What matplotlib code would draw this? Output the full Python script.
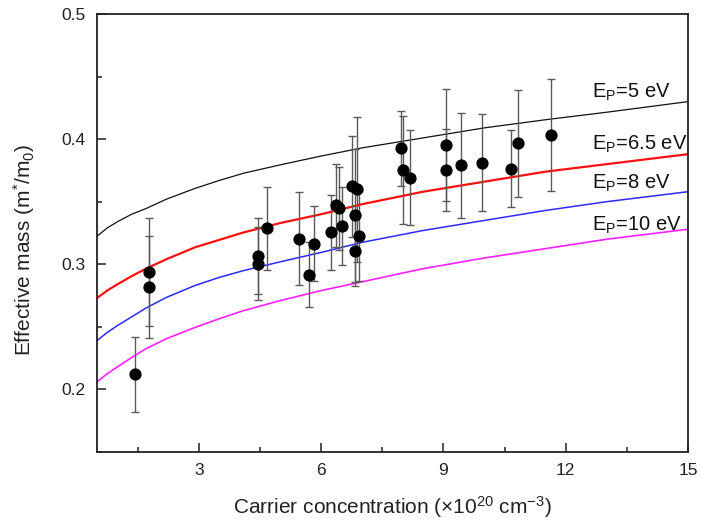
import matplotlib
matplotlib.use("Agg")
import matplotlib.pyplot as plt
from matplotlib.ticker import MultipleLocator

plt.rcParams['font.family'] = ['Liberation Sans', 'DejaVu Sans']
plt.rcParams['mathtext.fontset'] = 'custom'
plt.rcParams['mathtext.rm'] = 'Liberation Sans'
plt.rcParams['mathtext.it'] = 'Liberation Sans:italic'
plt.rcParams['mathtext.bf'] = 'Liberation Sans:bold'

# ---- model curves ----
curve_x = [0.5, 0.75, 1.0, 1.35, 1.7, 2.2, 2.9, 3.5, 4.1, 5.0, 6.0, 7.0, 8.5, 10.0, 11.5, 13.0, 15.0]
ep5 = [0.3224, 0.329, 0.334, 0.340, 0.3445, 0.352, 0.3606, 0.367, 0.3728, 0.3795, 0.3865, 0.393,
       0.401, 0.409, 0.4155, 0.4215, 0.430]
ep65 = [0.273, 0.279, 0.284, 0.2905, 0.2965, 0.304, 0.3135, 0.3195, 0.3255, 0.333, 0.340, 0.348,
        0.358, 0.366, 0.374, 0.380, 0.388]
ep8 = [0.239, 0.2455, 0.251, 0.258, 0.265, 0.2735, 0.2830, 0.2895, 0.295, 0.302, 0.3095, 0.3175,
       0.327, 0.335, 0.343, 0.350, 0.358]
ep10 = [0.206, 0.2125, 0.218, 0.2255, 0.2325, 0.2405, 0.2495, 0.2565, 0.263, 0.271, 0.279, 0.286,
        0.2965, 0.305, 0.3125, 0.320, 0.328]
curve_labels = ["E$_\\mathrm{P}$=5 eV", "E$_\\mathrm{P}$=6.5 eV", "E$_\\mathrm{P}$=8 eV", "E$_\\mathrm{P}$=10 eV"]
curve_colors = ["#111111", "#ff1010", "#2a2aff", "#ff20ff"]
curve_widths = [0.9, 1.6, 1.1, 1.2]
label_y = [0.4328, 0.3912, 0.3608, 0.3272]

# ---- measured data ----
conc = [1.43, 1.77, 1.77, 4.45, 4.44, 4.66, 5.46, 5.70, 5.82, 6.25, 6.37, 6.43, 6.51,
        6.76, 6.88, 6.82, 6.93, 6.82, 7.95, 8.01, 8.17, 9.07, 9.07, 9.42, 9.94, 10.65, 10.83, 11.64]
mass = [0.212, 0.294, 0.282, 0.3066, 0.3006, 0.3286, 0.3205, 0.2917, 0.3166, 0.3256, 0.3472,
        0.3448, 0.3305, 0.3622, 0.3598, 0.3392, 0.3224, 0.3108, 0.3926, 0.3752, 0.3693,
        0.3952, 0.3755, 0.3792, 0.3813, 0.3765, 0.3966, 0.4032]
err = [0.030, 0.043, 0.041, 0.030, 0.029, 0.033, 0.037, 0.026, 0.030, 0.030, 0.033,
       0.033, 0.031, 0.040, 0.058, 0.053, 0.036, 0.028, 0.030, 0.043, 0.038,
       0.045, 0.033, 0.042, 0.039, 0.031, 0.043, 0.045]

fig = plt.figure(figsize=(7.01, 5.29), dpi=100)
ax = fig.add_axes([0.1384, 0.1456, 0.8431, 0.8279])

for yv, c, lw in zip([ep5, ep65, ep8, ep10], curve_colors, curve_widths):
    ax.plot(curve_x, yv, color=c, lw=lw, zorder=2)

ax.errorbar(conc, mass, yerr=err, fmt='o', color='black', ms=7.8,
            ecolor='#5a5a5a', elinewidth=1.0, capsize=3.2, capthick=1.0, zorder=3)

for lab, ly in zip(curve_labels, label_y):
    ax.text(12.64, ly, lab, fontsize=14.5, color='#111111', ha='left', va='baseline')

ax.set_xlim(0.5, 15)
ax.set_ylim(0.15, 0.5)
ax.xaxis.set_minor_locator(MultipleLocator(1.5))
ax.yaxis.set_minor_locator(MultipleLocator(0.05))
ax.set_xticks([3, 6, 9, 12, 15])
ax.set_xticklabels(['3', '6', '9', '12', '15'])
ax.set_yticks([0.2, 0.3, 0.4, 0.5])
ax.set_yticklabels(['0.2', '0.3', '0.4', '0.5'])

ax.tick_params(which='both', direction='in', top=False, right=False, color='#222222',
               labelsize=12.5, labelcolor='#222222')
ax.tick_params(which='major', length=6.5, width=1.1, pad=8)
ax.tick_params(which='minor', length=3.5, width=1.1)
for s in ax.spines.values():
    s.set_linewidth(1.3)
    s.set_color('#222222')

ax.set_xlabel('Carrier concentration ($\\times$10$^{20}$ cm$^{-3}$)', fontsize=15,
              color='#222222')
ax.set_ylabel('Effective mass (m$^{*}$/m$_{0}$)', fontsize=15, color='#222222')
ax.xaxis.set_label_coords((392.5 - 97) / 591, (452 - 494) / 438)
ax.yaxis.set_label_coords((37 - 97) / 591, (452 - 250) / 438)

fig.savefig('out.png', dpi=100)
